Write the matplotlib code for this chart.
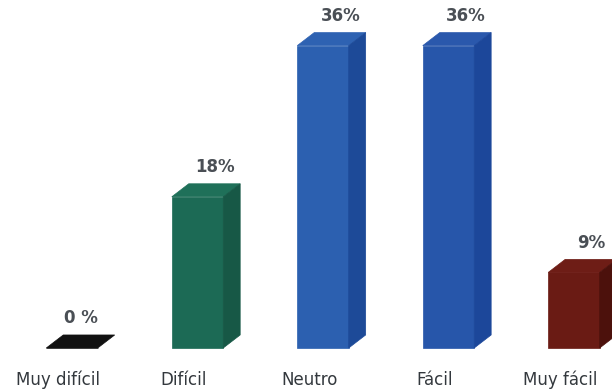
import matplotlib
matplotlib.use("Agg")
from matplotlib import pyplot as plt
from matplotlib.patches import Polygon


categories = ["Muy difícil", "Difícil", "Neutro", "Fácil", "Muy fácil"]
values = [0, 18, 36, 36, 9]
value_labels = ["0 %", "18%", "36%", "36%", "9%"]

front_colors = ["#111111", "#1c6a55", "#2c60b0", "#2756aa", "#6a1b14"]
side_colors = ["#111111", "#175846", "#1d4a98", "#1c479a", "#4c110c"]
top_colors = ["#111111", "#1f7059", "#2e62b2", "#2a58ac", "#6e1d16"]

# bar geometry in data units
width = 0.41
dx = 0.135
dy = 1.55

plt.rcParams['font.family'] = ['DejaVu Sans']

fig = plt.figure(figsize=(6.12, 3.92), dpi=100)
ax = fig.add_axes([0, 0, 1, 1])
ax.set_xlim(-0.574, 4.303)
ax.set_ylim(-5.24, 41.43)
ax.axis('off')

x = list(range(len(categories)))

# Front faces
ax.bar(x, values, width=width, color=front_colors, edgecolor=front_colors, linewidth=0.5)

for i in x:
	v = values[i]
	x0 = i - width / 2
	x1 = i + width / 2

	# Top face
	top = [(x0, v), (x0 + dx, v + dy), (x1 + dx, v + dy), (x1, v)]
	ax.add_patch(Polygon(top, closed=True, facecolor=top_colors[i],
		edgecolor=top_colors[i], linewidth=0.5))

	# Right side face
	if v > 0:
		side = [(x1, 0), (x1 + dx, dy), (x1 + dx, v + dy), (x1, v)]
		ax.add_patch(Polygon(side, closed=True, facecolor=side_colors[i],
			edgecolor=side_colors[i], linewidth=0.5))

	# Value label above the bar
	label_x = i + 0.14 if v > 0 else i + 0.07
	ax.text(label_x, v + dy + 2.0, value_labels[i], ha='center', va='center',
		fontsize=12, fontweight='bold', color='#4a4f55')

	# Category label under the bar
	ax.text(i - 0.108, -3.8, categories[i], ha='center', va='center',
		fontsize=12, fontweight='medium', color='#33383d')

fig.savefig("out.png", dpi=100)
